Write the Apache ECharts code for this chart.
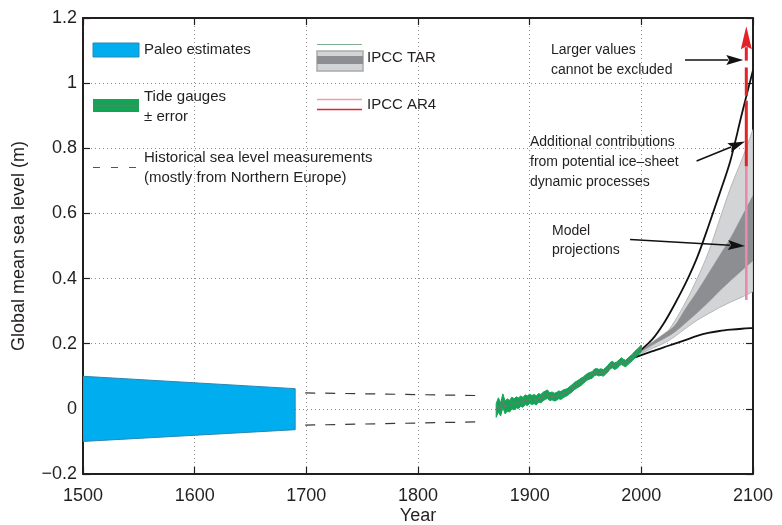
<!DOCTYPE html>
<html><head><meta charset="utf-8">
<script src="https://cdn.jsdelivr.net/npm/echarts@6/dist/echarts.min.js"></script>
<style>html,body{margin:0;padding:0;background:#fff}#c{width:782px;height:525px}</style>
</head><body><div id="c"></div>
<script>
// ---------- data ----------
const yTicks = [-0.2, 0, 0.2, 0.4, 0.6, 0.8, 1, 1.2];
const yTickLabels = ['\u22120.2', '0', '0.2', '0.4', '0.6', '0.8', '1', '1.2'];
const xTicks = [1500, 1600, 1700, 1800, 1900, 2000, 2100];
const xTickLabels = ['1500', '1600', '1700', '1800', '1900', '2000', '2100'];

// Paleo estimates band
const paleoYears = [1500, 1690];
const paleoUpper = [0.100, 0.062];
const paleoLower = [-0.100, -0.064];

// Historical measurements (dashed envelope)
const histYears = [1699, 1852];
const histUpper = [0.049, 0.041];
const histLower = [-0.050, -0.040];

// Tide gauges
const tideYears = [1870,1872,1874,1876,1878,1880,1882,1884,1886,1888,1890,1892,1894,1896,1898,1900,1902,1904,1906,1908,1910,1912,1914,1916,1918,1920,1922,1924,1926,1928,1930,1932,1934,1936,1938,1940,1942,1944,1946,1948,1950,1952,1954,1956,1958,1960,1962,1964,1966,1968,1970,1972,1974,1976,1978,1980,1982,1984,1986,1988,1990,1992,1994,1996,1998,2000];
const tideLevel = [-0.005,0.012,-0.002,0.025,0.004,0.012,0.008,0.018,0.014,0.020,0.017,0.024,0.020,0.028,0.025,0.031,0.027,0.030,0.026,0.034,0.031,0.038,0.042,0.045,0.037,0.040,0.036,0.038,0.043,0.041,0.046,0.049,0.052,0.058,0.063,0.070,0.074,0.078,0.083,0.088,0.094,0.099,0.102,0.104,0.112,0.114,0.111,0.113,0.110,0.117,0.123,0.132,0.136,0.131,0.134,0.140,0.147,0.142,0.139,0.146,0.152,0.158,0.166,0.172,0.179,0.186];
const tideErr = [0.021,0.022,0.020,0.021,0.019,0.019,0.018,0.018,0.017,0.017,0.016,0.016,0.015,0.015,0.015,0.014,0.014,0.014,0.014,0.013,0.013,0.013,0.013,0.013,0.012,0.012,0.012,0.012,0.012,0.012,0.012,0.011,0.011,0.011,0.011,0.011,0.011,0.011,0.011,0.010,0.010,0.010,0.010,0.010,0.010,0.010,0.010,0.010,0.010,0.010,0.010,0.010,0.010,0.010,0.010,0.010,0.010,0.010,0.010,0.010,0.010,0.010,0.010,0.010,0.010,0.010];

// Projections
const projYears = [1990,2000,2010,2020,2030,2040,2050,2060,2070,2080,2090,2100];
const envUpper  = [0.153,0.182,0.214,0.262,0.322,0.388,0.465,0.560,0.660,0.765,0.905,1.040];
const envLower  = [0.153,0.165,0.177,0.189,0.200,0.212,0.224,0.233,0.239,0.243,0.246,0.248];
const tarOuterUp = [0.153,0.172,0.195,0.222,0.270,0.330,0.400,0.480,0.580,0.680,0.765,0.858];
const tarOuterLo = [0.153,0.170,0.186,0.201,0.222,0.248,0.272,0.292,0.311,0.328,0.343,0.360];
const tarInnerUp = [0.153,0.180,0.205,0.230,0.256,0.310,0.360,0.415,0.470,0.525,0.590,0.655];
const tarInnerLo = [0.153,0.175,0.197,0.215,0.236,0.265,0.295,0.327,0.362,0.394,0.425,0.455];

// IPCC AR4 and extra range (vertical bars at 2094)
const ar4Year = 2094;
const ar4Range = [0.334, 0.745];
const redSegments = [[0.745, 0.946], [0.961, 1.048]];
const redArrow = [1.069, 1.175];

// Annotation arrows [fromX, fromY, toX, toY]
const annotArrows = [
  [2039.1, 1.071, 2091.3, 1.071],
  [2049.5, 0.761, 2092.8, 0.821],
  [1989.9, 0.520, 2092.8, 0.500]
];

// ---------- chart ----------
const font = '"Liberation Sans", Arial, Helvetica, sans-serif';
const ink = '#231f20';
const chart = echarts.init(document.getElementById('c'), null, {renderer: 'canvas'});

function polyBand(name, xs, up, lo, fill, stroke, z) {
  return {
    type: 'custom', name, z, silent: true, clip: true,
    data: [[xs[0], up[0]]],
    renderItem(params, api) {
      const pts = [];
      for (let i = 0; i < xs.length; i++) pts.push(api.coord([xs[i], up[i]]));
      for (let i = xs.length - 1; i >= 0; i--) pts.push(api.coord([xs[i], lo[i]]));
      return {type: 'polygon', shape: {points: pts}, style: {fill: fill, stroke: stroke, lineWidth: 1}};
    }
  };
}

// Catmull-Rom -> cubic bezier path through pixel points (rendering only)
function curveSegs(pts) {
  let d = '';
  for (let i = 0; i < pts.length - 1; i++) {
    const p0 = pts[i - 1] || pts[i], p1 = pts[i], p2 = pts[i + 1], p3 = pts[i + 2] || pts[i + 1];
    const c1x = p1[0] + (p2[0] - p0[0]) / 6, c1y = p1[1] + (p2[1] - p0[1]) / 6;
    const c2x = p2[0] - (p3[0] - p1[0]) / 6, c2y = p2[1] - (p3[1] - p1[1]) / 6;
    d += ' C' + c1x.toFixed(2) + ' ' + c1y.toFixed(2) + ' ' + c2x.toFixed(2) + ' ' + c2y.toFixed(2) + ' ' + p2[0].toFixed(2) + ' ' + p2[1].toFixed(2);
  }
  return d;
}

function smoothBand(name, xs, up, lo, fill, stroke, lw, z) {
  return {
    type: 'custom', name, z, silent: true, clip: true,
    data: [[xs[0], up[0]]],
    renderItem(params, api) {
      const u = xs.map((x, i) => api.coord([x, up[i]]));
      const l = xs.map((x, i) => api.coord([x, lo[i]])).reverse();
      const d = 'M' + u[0][0].toFixed(2) + ' ' + u[0][1].toFixed(2) + curveSegs(u) +
        ' L' + l[0][0].toFixed(2) + ' ' + l[0][1].toFixed(2) + curveSegs(l) + ' Z';
      return {type: 'path', shape: {pathData: d}, style: {fill: fill, stroke: stroke, lineWidth: lw}};
    }
  };
}

function smoothCurve(name, xs, ys, color, lw, z) {
  return {
    type: 'custom', name, z, silent: true, clip: true,
    data: [[xs[0], ys[0]]],
    renderItem(params, api) {
      const p = xs.map((x, i) => api.coord([x, ys[i]]));
      const d = 'M' + p[0][0].toFixed(2) + ' ' + p[0][1].toFixed(2) + curveSegs(p);
      return {type: 'path', shape: {pathData: d}, style: {fill: null, stroke: color, lineWidth: lw}};
    }
  };
}

function arrowSeries(name, rows, color, lw, headL, headW, z) {
  return {
    type: 'custom', name, z, silent: true, clip: false,
    data: rows,
    encode: {x: [0, 2], y: [1, 3]},
    renderItem(params, api) {
      const p1 = api.coord([api.value(0), api.value(1)]);
      const p2 = api.coord([api.value(2), api.value(3)]);
      const dx = p2[0] - p1[0], dy = p2[1] - p1[1];
      const len = Math.sqrt(dx * dx + dy * dy);
      const ux = dx / len, uy = dy / len;
      const bx = p2[0] - ux * headL, by = p2[1] - uy * headL;
      const nx = -uy, ny = ux;
      return {
        type: 'group',
        children: [
          {type: 'line', shape: {x1: p1[0], y1: p1[1], x2: bx + ux * 2, y2: by + uy * 2}, style: {stroke: color, lineWidth: lw}},
          {type: 'polygon', shape: {points: [[p2[0], p2[1]], [bx + nx * headW / 2, by + ny * headW / 2], [bx + ux * 3, by + uy * 3], [bx - nx * headW / 2, by - ny * headW / 2]]}, style: {fill: color}}
        ]
      };
    }
  };
}

const redData = [];
redSegments.forEach(s => { redData.push([ar4Year, s[0]], [ar4Year, s[1]], [ar4Year, null]); });

const axisCommon = {
  axisLine: {show: true, onZero: false, lineStyle: {color: ink, width: 2}},
  axisTick: {show: true, inside: true, length: 7, lineStyle: {color: ink, width: 1.2}},
};

const textEl = (t, x, y, size) => ({
  type: 'text', x: x, y: y, z: 100,
  style: {text: t, fill: ink, font: size + 'px ' + font, verticalAlign: 'middle', align: 'left'}
});

const option = {
  animation: false,
  backgroundColor: '#ffffff',
  grid: {left: 83, right: 29, top: 18, bottom: 51, containLabel: false, outerBoundsMode: 'none'},
  xAxis: [
    Object.assign({
      type: 'value', min: 1500, max: 2100, interval: 100, position: 'bottom',
      name: 'Year', nameLocation: 'middle', nameGap: 33, nameMoveOverlap: false,
      nameTextStyle: {fontSize: 18, color: ink, fontFamily: font},
      axisLabel: {fontSize: 18, color: ink, fontFamily: font, margin: 13,
        formatter: v => { const i = xTicks.indexOf(Math.round(v)); return i >= 0 ? xTickLabels[i] : ''; }},
      splitLine: {show: true, lineStyle: {color: '#8a8a8a', type: [1, 3], width: 1}}
    }, axisCommon),
    Object.assign({
      type: 'value', min: 1500, max: 2100, interval: 100, position: 'top',
      axisLabel: {show: false}, splitLine: {show: false}
    }, axisCommon)
  ],
  yAxis: [
    Object.assign({
      type: 'value', min: -0.2, max: 1.2, interval: 0.2, position: 'left',
      name: 'Global mean sea level (m)', nameLocation: 'middle', nameGap: 55, nameRotate: 90,
      nameTextStyle: {fontSize: 18, color: ink, fontFamily: font},
      axisLabel: {fontSize: 18, color: ink, fontFamily: font, margin: 6,
        formatter: v => { const i = yTicks.findIndex(t => Math.abs(t - v) < 1e-6); return i >= 0 ? yTickLabels[i] : ''; }},
      splitLine: {show: true, lineStyle: {color: '#8a8a8a', type: [1, 3], width: 1}}
    }, axisCommon),
    Object.assign({
      type: 'value', min: -0.2, max: 1.2, interval: 0.2, position: 'right',
      axisLabel: {show: false}, splitLine: {show: false}
    }, axisCommon)
  ],
  series: [
    polyBand('Paleo estimates', paleoYears, paleoUpper, paleoLower, '#00aeef', '#2a86b3', 2),
    {type: 'line', name: 'histU', z: 2, symbol: 'none', silent: true,
     data: histYears.map((y, i) => [y, histUpper[i]]),
     lineStyle: {color: '#3a3a3a', width: 1.2, type: [10, 10]}},
    {type: 'line', name: 'histL', z: 2, symbol: 'none', silent: true,
     data: histYears.map((y, i) => [y, histLower[i]]),
     lineStyle: {color: '#3a3a3a', width: 1.2, type: [10, 10]}},
    smoothBand('TAR outer', projYears, tarOuterUp, tarOuterLo, '#d3d4d6', '#a9aaac', 0.8, 3),
    smoothBand('TAR inner', projYears, tarInnerUp, tarInnerLo, '#8d8e91', '#8d8e91', 0.5, 4),
    smoothCurve('envUpper', projYears, envUpper, '#111111', 1.8, 5),
    smoothCurve('envLower', projYears, envLower, '#111111', 1.8, 5),
    polyBand('Tide gauges', tideYears, tideYears.map((y, i) => tideLevel[i] + tideErr[i]),
      tideYears.map((y, i) => tideLevel[i] - tideErr[i]), '#13a456', '#13a456', 6),
    {type: 'line', name: 'tideCentre', z: 7, symbol: 'none', silent: true,
     data: tideYears.map((y, i) => [y, tideLevel[i]]),
     lineStyle: {color: '#6b7a6e', width: 1.2}},
    {type: 'line', name: 'AR4', z: 8, symbol: 'none', silent: true,
     data: [[ar4Year, ar4Range[0]], [ar4Year, ar4Range[1]]],
     lineStyle: {color: '#e98aa9', width: 2.6}},
    {type: 'line', name: 'AR4extra', z: 9, symbol: 'none', silent: true, connectNulls: false,
     data: redData, lineStyle: {color: '#e2232a', width: 3}},
    arrowSeries('redArrow', [[ar4Year, redArrow[0], ar4Year, redArrow[1]]], '#e2232a', 3, 23, 11, 9),
    arrowSeries('annotArrows', annotArrows, '#111111', 1.5, 17, 10, 10)
  ],
  graphic: [
    {type: 'rect', z: 100, shape: {x: 93, y: 43, width: 46, height: 14}, style: {fill: '#00aeef', stroke: '#2a86b3', lineWidth: 1}},
    textEl('Paleo estimates', 144, 50, 15),
    {type: 'rect', z: 100, shape: {x: 93, y: 99, width: 46, height: 13}, style: {fill: '#13a456'}},
    {type: 'line', z: 101, shape: {x1: 93, y1: 105.5, x2: 139, y2: 105.5}, style: {stroke: '#6b7a6e', lineWidth: 1.5}},
    textEl('Tide gauges', 144, 96.5, 15),
    textEl('\u00b1 error', 144, 116.5, 15),
    {type: 'line', z: 100, shape: {x1: 93, y1: 167.5, x2: 139, y2: 167.5}, style: {stroke: '#555555', lineWidth: 1.2, lineDash: [7, 11]}},
    textEl('Historical sea level measurements', 144, 157.5, 15),
    textEl('(mostly from Northern Europe)', 144, 178, 15),
    {type: 'line', z: 100, shape: {x1: 317, y1: 44.5, x2: 362, y2: 44.5}, style: {stroke: '#7fae90', lineWidth: 1.2}},
    {type: 'rect', z: 100, shape: {x: 317, y: 51, width: 46, height: 20}, style: {fill: '#d3d4d6', stroke: '#a9aaac', lineWidth: 1.5}},
    {type: 'rect', z: 101, shape: {x: 317, y: 56, width: 46, height: 8}, style: {fill: '#8d8e91'}},
    textEl('IPCC TAR', 367, 57.5, 15),
    {type: 'line', z: 100, shape: {x1: 317, y1: 99.5, x2: 362, y2: 99.5}, style: {stroke: '#f09ab4', lineWidth: 1.5}},
    {type: 'line', z: 100, shape: {x1: 317, y1: 109.5, x2: 362, y2: 109.5}, style: {stroke: '#e2232a', lineWidth: 1.5}},
    textEl('IPCC AR4', 367, 104.5, 15),
    textEl('Larger values', 551, 50, 14),
    textEl('cannot be excluded', 551, 70, 14),
    textEl('Additional contributions', 530, 142.5, 14),
    textEl('from potential ice\u2013sheet', 530, 162.5, 14),
    textEl('dynamic processes', 530, 182.5, 14),
    textEl('Model', 552, 231, 14),
    textEl('projections', 552, 250.5, 14)
  ]
};
chart.setOption(option);
</script>
</body></html>
